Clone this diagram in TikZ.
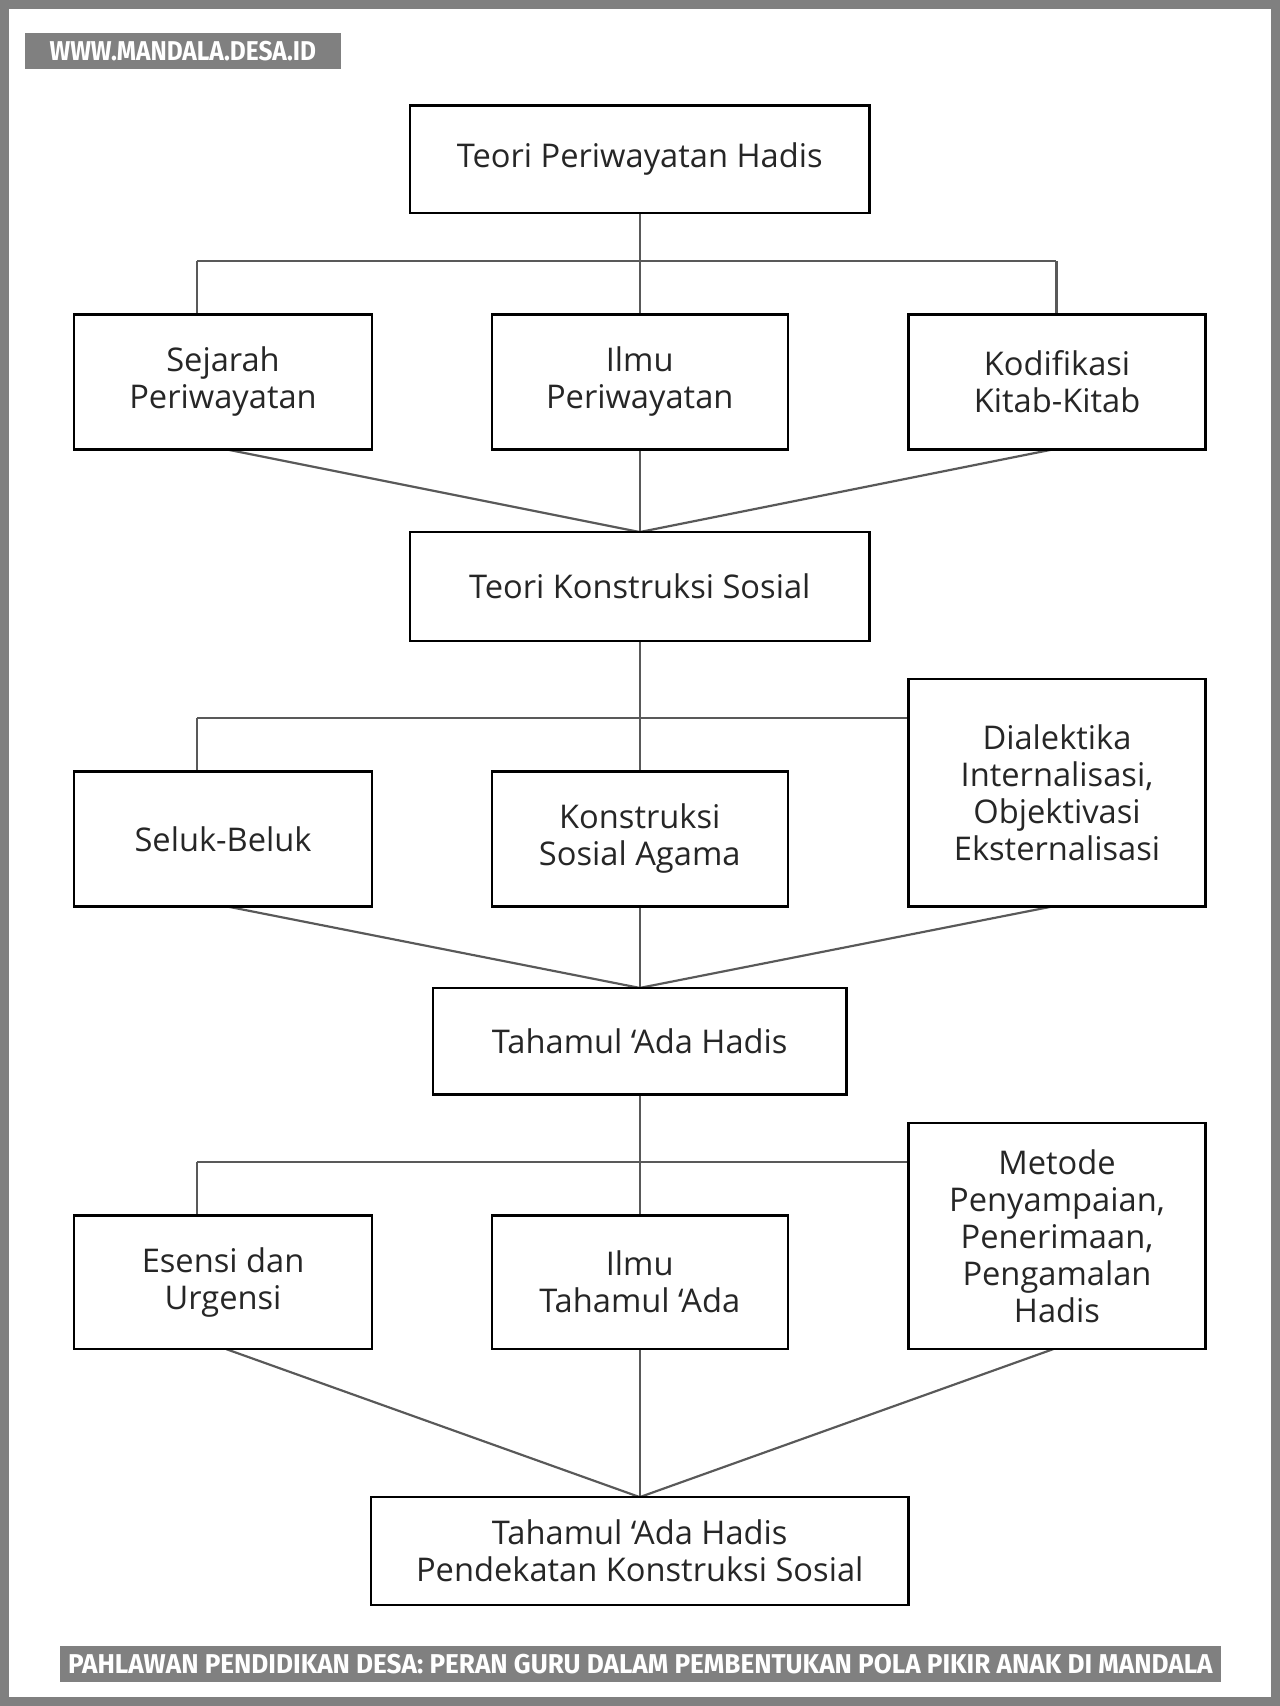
\documentclass[tikz,border=0pt]{standalone}
\usepackage{fontspec}
\setmainfont{Open Sans}
\newfontfamily\bannerfont{Fira Sans}
\begin{document}
\begin{tikzpicture}[x=1pt,y=-1pt,
  box/.style={draw=black,line width=2.2pt,fill=white,align=center,inner sep=0pt,
    font=\fontsize{30}{34}\selectfont,text=black!85},
  ln/.style={draw=black!65,line width=2pt},
  tag/.style={fill=black!50,text=white,inner sep=0pt,font=\bannerfont\bfseries\fontsize{25}{28}\selectfont}]
\useasboundingbox (0,0) rectangle (1176,1568);
\draw[draw=black!50,line width=8pt] (4,4) rectangle (1172,1564);
\newcommand{\bx}[6]{\node[box,minimum width=#4-#2,minimum height=#5-#3] (#1) at ({(#2+#4)/2},{(#3+#5)/2}) {#6};}
\coordinate (h1l) at (181,240); \coordinate (h1r) at (971,240);
\coordinate (h2l) at (181,660); \coordinate (h3l) at (181,1068);
\draw[ln] (588,196) -- (588,289);
\draw[ln] (h1l) -- (h1r); \draw[ln] (h1l) -- (181,289); \draw[ln] (h1r) -- (971,289);
\draw[ln] (208,413) -- (588,489) -- (968,413); \draw[ln] (588,413)--(588,489);
\draw[ln] (588,589) -- (588,709);
\draw[ln] (h2l) -- (835,660); \draw[ln] (h2l) -- (181,709);
\draw[ln] (208,833) -- (588,908) -- (968,833); \draw[ln] (588,833)--(588,908);
\draw[ln] (588,1006) -- (588,1117);
\draw[ln] (h3l) -- (835,1068); \draw[ln] (h3l) -- (181,1117);
\draw[ln] (208,1240) -- (588,1376) -- (968,1240); \draw[ln] (588,1240)--(588,1376);
\bx{a}{377}{97}{799}{196}{Teori Periwayatan Hadis}
\bx{b1}{68}{289}{342}{413}{Sejarah\\Periwayatan}
\bx{b2}{452}{289}{724}{413}{Ilmu\\Periwayatan}
\bx{b3}{835}{289}{1108}{413}{Kodifikasi\\Kitab-Kitab}
\bx{c}{377}{489}{799}{589}{Teori Konstruksi Sosial}
\bx{d1}{68}{709}{342}{833}{Seluk-Beluk}
\bx{d2}{452}{709}{724}{833}{Konstruksi\\Sosial Agama}
\bx{d3}{835}{624}{1108}{833}{Dialektika\\Internalisasi,\\Objektivasi\\Eksternalisasi}
\bx{e}{398}{908}{778}{1006}{Tahamul ‘Ada Hadis}
\bx{f1}{68}{1117}{342}{1240}{Esensi dan\\Urgensi}
\bx{f2}{452}{1117}{724}{1240}{Ilmu\\Tahamul ‘Ada}
\bx{f3}{835}{1032}{1108}{1240}{Metode\\Penyampaian,\\Penerimaan,\\Pengamalan\\Hadis}
\bx{g}{341}{1376}{835}{1475}{Tahamul ‘Ada Hadis\\Pendekatan Konstruksi Sosial}
\node[tag,minimum width=290,minimum height=33] (w) at (168,46.5) {\scalebox{0.9}[1]{WWW.MANDALA.DESA.ID}};
\node[tag,minimum width=1067,minimum height=33] (t) at (588.5,1529.5) {\scalebox{0.96}[1]{PAHLAWAN PENDIDIKAN DESA: PERAN GURU DALAM PEMBENTUKAN POLA PIKIR ANAK DI MANDALA}};
\end{tikzpicture}
\end{document}
